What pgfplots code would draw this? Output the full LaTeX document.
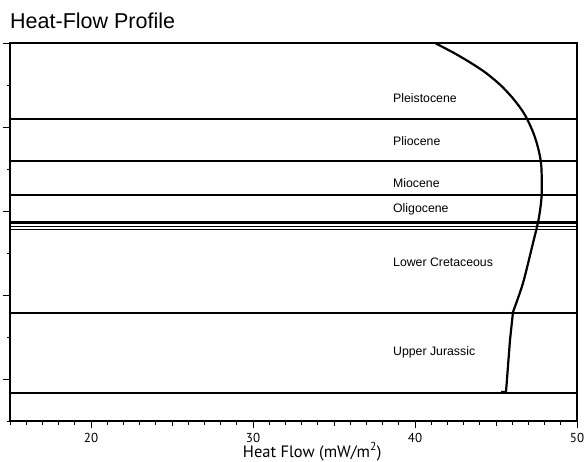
\documentclass[border=0pt]{standalone}
\usepackage{pgfplots}
\pgfplotsset{compat=1.18}
\usepackage{fontspec}
\setmainfont{Liberation Sans}
\newfontfamily\ptsans{PT Sans}
\begin{document}
\begin{tikzpicture}
\useasboundingbox (0,0) rectangle (585pt,461pt);
\begin{axis}[
  at={(10pt,40pt)}, anchor=south west,
  scale only axis, width=567pt, height=378pt,
  xmin=15, xmax=50, ymin=0, ymax=9,
  axis line style={line width=1.2pt, black},
  tick align=outside,
  xtick pos=lower, ytick pos=left,
  xtick={20,30,40,50},
  extra x ticks={25,35,45},
  extra x tick labels={},
  extra x tick style={major tick length=5pt},
  minor xtick={15,16,...,50},
  ytick={1,3,5,7,9},
  yticklabels={},
  minor ytick={0,2,4,6,8},
  major tick length=6.5pt,
  minor tick length=3.5pt,
  every tick/.style={black, line width=0.9pt},
  /pgf/number format/assume math mode=true,
  xticklabel style={font=\ptsans\fontsize{13}{15}\selectfont, anchor=base, yshift=-15pt},
  xlabel={Heat Flow (mW/m\textsuperscript{2})},
  xlabel style={font=\ptsans\fontsize{16.5}{19}\selectfont, at={(axis description cs:0.533,0)}, anchor=base, yshift=-36pt, inner sep=0pt},
  title={Heat-Flow Profile},
  title style={font=\fontsize{21.5}{25}\selectfont, at={(axis description cs:0,1)}, anchor=base west, yshift=8pt, inner sep=0pt},
  clip=true,
]
% horizontal stratigraphic boundaries
\addplot[black, line width=1.3pt] coordinates {(15,7.19) (50,7.19)};
\addplot[black, line width=1.3pt] coordinates {(15,6.19) (50,6.19)};
\addplot[black, line width=1.3pt] coordinates {(15,5.38) (50,5.38)};
\addplot[black, line width=1.1pt] coordinates {(15,4.738) (50,4.738)};
\addplot[black, line width=1.0pt] coordinates {(15,4.695) (50,4.695)};
\addplot[black, line width=1.0pt] coordinates {(15,4.631) (50,4.631)};
\addplot[black, line width=1.0pt] coordinates {(15,4.548) (50,4.548)};
\addplot[black, line width=1.3pt] coordinates {(15,2.57) (50,2.57)};
\addplot[black, line width=1.6pt] coordinates {(15,0.67) (50,0.67)};
% heat flow curve
\addplot[black, line width=2.2pt, smooth, tension=0.5] coordinates {
 (41.235,9.0) (42.407,8.762) (43.457,8.524) (44.383,8.286) (45.272,8.0)
 (45.975,7.714) (46.506,7.452) (46.889,7.214) (47.333,6.833) (47.630,6.452)
 (47.790,6.095) (47.827,5.619) (47.796,5.262) (47.623,4.786) (47.253,4.190)
 (46.667,3.286) (46.049,2.595)};
\addplot[black, line width=2.2pt, line join=round] coordinates {
 (46.049,2.595) (45.864,1.929) (45.617,0.69) (45.309,0.69)};
% stratum labels
\begin{scope}[every node/.style={anchor=base west, inner sep=0pt, font=\fontsize{12.3}{14}\selectfont}]
\node at (axis cs:38.64,7.595) {Pleistocene};
\node at (axis cs:38.64,6.548) {Pliocene};
\node at (axis cs:38.64,5.548) {Miocene};
\node at (axis cs:38.64,4.960) {Oligocene};
\node at (axis cs:38.64,3.690) {Lower Cretaceous};
\node at (axis cs:38.64,1.548) {Upper Jurassic};
\end{scope}
\end{axis}
\end{tikzpicture}
\end{document}
